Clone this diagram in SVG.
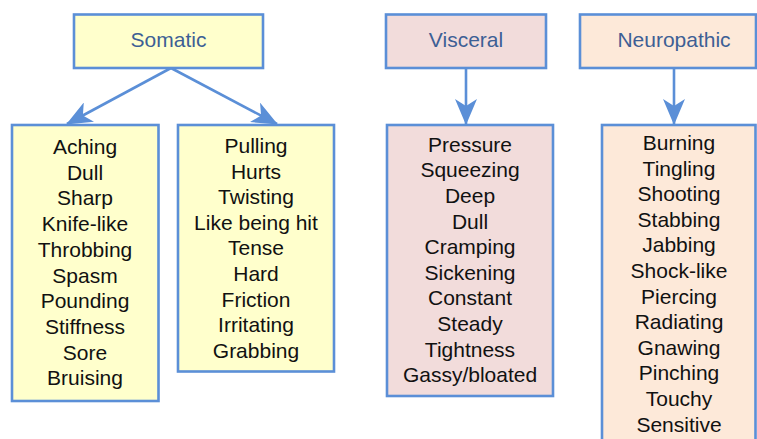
<svg xmlns="http://www.w3.org/2000/svg" width="757" height="439" viewBox="0 0 757 439">
<defs>
<style>
.box{stroke:#5B8FD7;stroke-width:2.6}
.som{fill:#FFFFCC}
.vis{fill:#F2DCDB}
.neu{fill:#FDE9D9}
.hd{font-family:"Liberation Sans",Arial,sans-serif;font-size:21px;fill:#3D5F95;text-anchor:middle}
.it{font-family:"Liberation Sans",Arial,sans-serif;font-size:21px;fill:#111111;text-anchor:middle}
.con{stroke:#5B8FD7;stroke-width:2.6;fill:none}
</style>
<marker id="ah" viewBox="0 0 26 22" refX="25" refY="11" markerWidth="26" markerHeight="22" markerUnits="userSpaceOnUse" orient="auto">
<path d="M0,0 L26,11 L0,22 L7,11 Z" fill="#5B8FD7"/>
</marker>
</defs>
<rect width="757" height="439" fill="#FFFFFF"/>
<g id="connectors">
<line class="con" x1="171" y1="68" x2="67" y2="124" marker-end="url(#ah)"/>
<line class="con" x1="171" y1="68" x2="277" y2="124" marker-end="url(#ah)"/>
<line class="con" x1="466" y1="68" x2="466" y2="124" marker-end="url(#ah)"/>
<line class="con" x1="674" y1="68" x2="674" y2="124" marker-end="url(#ah)"/>
</g>
<g id="somatic">
<rect class="box som" x="74" y="14.5" width="189" height="53.5"/>
<text class="hd" x="168.5" y="47">Somatic</text>
</g>
<g id="visceral">
<rect class="box vis" x="386" y="14.5" width="160" height="53.5"/>
<text class="hd" x="466" y="47">Visceral</text>
</g>
<g id="neuropathic">
<rect class="box neu" x="580" y="14.5" width="176" height="53.5"/>
<text class="hd" x="674" y="47">Neuropathic</text>
</g>
<g id="somatic-list-1">
<rect class="box som" x="12" y="125" width="146.5" height="276"/>
<text class="it" x="85" y="154">Aching</text>
<text class="it" x="85" y="179.7">Dull</text>
<text class="it" x="85" y="205.4">Sharp</text>
<text class="it" x="85" y="231.1">Knife-like</text>
<text class="it" x="85" y="256.8">Throbbing</text>
<text class="it" x="85" y="282.5">Spasm</text>
<text class="it" x="85" y="308.2">Pounding</text>
<text class="it" x="85" y="333.9">Stiffness</text>
<text class="it" x="85" y="359.6">Sore</text>
<text class="it" x="85" y="385.3">Bruising</text>
</g>
<g id="somatic-list-2">
<rect class="box som" x="178" y="125" width="156" height="246.5"/>
<text class="it" x="256" y="153">Pulling</text>
<text class="it" x="256" y="178.6">Hurts</text>
<text class="it" x="256" y="204.2">Twisting</text>
<text class="it" x="256" y="229.8">Like being hit</text>
<text class="it" x="256" y="255.4">Tense</text>
<text class="it" x="256" y="281">Hard</text>
<text class="it" x="256" y="306.6">Friction</text>
<text class="it" x="256" y="332.2">Irritating</text>
<text class="it" x="256" y="357.8">Grabbing</text>
</g>
<g id="visceral-list">
<rect class="box vis" x="387" y="125" width="166" height="271"/>
<text class="it" x="470" y="151.7">Pressure</text>
<text class="it" x="470" y="177.3">Squeezing</text>
<text class="it" x="470" y="202.9">Deep</text>
<text class="it" x="470" y="228.5">Dull</text>
<text class="it" x="470" y="254.1">Cramping</text>
<text class="it" x="470" y="279.7">Sickening</text>
<text class="it" x="470" y="305.3">Constant</text>
<text class="it" x="470" y="330.9">Steady</text>
<text class="it" x="470" y="356.5">Tightness</text>
<text class="it" x="470" y="382.1">Gassy/bloated</text>
</g>
<g id="neuropathic-list">
<rect class="box neu" x="602" y="125" width="153.5" height="330"/>
<text class="it" x="679" y="150">Burning</text>
<text class="it" x="679" y="175.6">Tingling</text>
<text class="it" x="679" y="201.2">Shooting</text>
<text class="it" x="679" y="226.8">Stabbing</text>
<text class="it" x="679" y="252.4">Jabbing</text>
<text class="it" x="679" y="278">Shock-like</text>
<text class="it" x="679" y="303.6">Piercing</text>
<text class="it" x="679" y="329.2">Radiating</text>
<text class="it" x="679" y="354.8">Gnawing</text>
<text class="it" x="679" y="380.4">Pinching</text>
<text class="it" x="679" y="406">Touchy</text>
<text class="it" x="679" y="431.6">Sensitive</text>
</g>
</svg>
